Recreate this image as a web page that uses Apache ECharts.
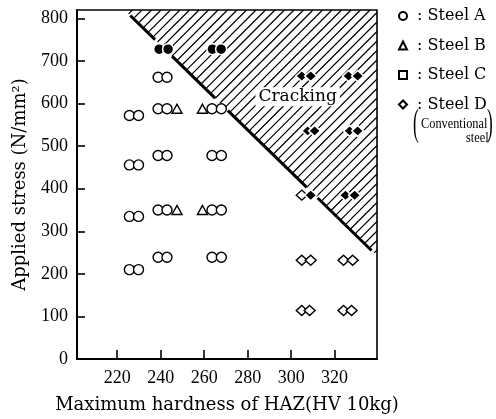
<!DOCTYPE html>
<html>
<head>
<meta charset="utf-8">
<script src="https://cdn.jsdelivr.net/npm/echarts@6/dist/echarts.min.js"></script>
<style>
  html, body { margin: 0; padding: 0; background: #fff; }
  #chart { width: 496px; height: 419px; }
</style>
</head>
<body>
<div id="chart"></div>
<script>
// Axis ticks
const hardnessTicks = [220, 240, 260, 280, 300, 320];
const stressTicks = [0, 100, 200, 300, 400, 500, 600, 700, 800];

// [maximum HAZ hardness (HV10), applied stress (N/mm²)]
const steelA = [
  [225.6, 572], [229.8, 572],
  [225.6, 456], [229.8, 456],
  [225.6, 335], [229.8, 335],
  [225.6, 210], [229.8, 210],
  [238.8, 662], [242.9, 662],
  [238.8, 588], [242.9, 588],
  [238.8, 478], [242.9, 478],
  [238.8, 350], [242.9, 350],
  [238.8, 239], [242.9, 239],
  [263.6, 588], [267.9, 588],
  [263.6, 478], [267.9, 478],
  [263.6, 350], [267.9, 350],
  [263.6, 239], [267.9, 239]
];
const steelACracked = [[239.3, 728], [243.4, 728], [263.8, 728], [267.8, 728]];
const steelB = [[247.5, 588], [247.5, 350], [259.2, 588], [259.2, 350]];
const steelC = [];
const steelD = [
  [304.9, 385],
  [304.9, 232], [309.0, 232], [324.1, 232], [328.3, 232],
  [304.9, 114], [308.5, 114], [324.1, 114], [327.8, 114]
];
const steelDCracked = [
  [304.9, 665], [309.0, 665], [326.4, 665], [330.6, 665],
  [307.6, 536], [310.8, 536], [326.9, 536], [330.6, 536],
  [309.0, 385], [325.0, 385], [329.2, 385]
];

// Cracking boundary: end points, and hardness ranges where the drawn line is interrupted
const crackEdge = [[226, 807], [337, 255]];
const edgeBreaks = [[237.4, 245.2], [265.0, 270.9], [307.2, 312.2]];
const crackingLabel = 'Cracking';

const HARD_MIN = 201.5, HARD_MAX = 339.5;
const STRESS_MIN = 0, STRESS_MAX = 820;

const SERIF = 'DejaVu Serif';
const NUM = 'Liberation Serif';

// Clip the parametric line P0 + t*D against a convex polygon (Cyrus-Beck)
function clipLine(P0, D, poly) {
  let tIn = -Infinity, tOut = Infinity;
  const cx = poly.reduce((a, p) => a + p[0], 0) / poly.length;
  const cy = poly.reduce((a, p) => a + p[1], 0) / poly.length;
  for (let i = 0; i < poly.length; i++) {
    const a = poly[i], b = poly[(i + 1) % poly.length];
    let nx = b[1] - a[1], ny = a[0] - b[0];
    if (nx * (cx - a[0]) + ny * (cy - a[1]) < 0) { nx = -nx; ny = -ny; }
    const num = nx * (P0[0] - a[0]) + ny * (P0[1] - a[1]);
    const den = nx * D[0] + ny * D[1];
    if (Math.abs(den) < 1e-9) {
      if (num < 0) return null;
    } else {
      const t = -num / den;
      if (den > 0) tIn = Math.max(tIn, t); else tOut = Math.min(tOut, t);
    }
  }
  return tIn < tOut ? [tIn, tOut] : null;
}

function renderCrackZone(params, api) {
  const [[h0, s0], [h1, s1]] = crackEdge;
  const slope = (s1 - s0) / (h1 - h0);
  const stressAt = h => s0 + (h - h0) * slope;
  const hardAt = s => h0 + (s - s0) / slope;

  const poly = [
    [hardAt(STRESS_MAX), STRESS_MAX],
    [HARD_MAX, STRESS_MAX],
    [HARD_MAX, stressAt(HARD_MAX)]
  ].map(p => api.coord(p));

  const children = [];
  // diagonal hatching "/" : x + y = c
  const step = 9.5;
  const sums = poly.map(p => p[0] + p[1]);
  const cMin = Math.ceil(Math.min(...sums) / step) * step;
  const cMax = Math.max(...sums);
  for (let c = cMin; c <= cMax; c += step) {
    const P0 = [c, 0], D = [1, -1];
    const r = clipLine(P0, D, poly);
    if (!r) continue;
    children.push({
      type: 'line',
      shape: { x1: P0[0] + r[0], y1: P0[1] - r[0], x2: P0[0] + r[1], y2: P0[1] - r[1] },
      style: { stroke: '#000', lineWidth: 1.2 }
    });
  }

  // thick boundary line, interrupted where specimens sit on it
  const cuts = [h0];
  edgeBreaks.forEach(b => { cuts.push(b[0], b[1]); });
  cuts.push(h1);
  for (let i = 0; i < cuts.length; i += 2) {
    const a = api.coord([cuts[i], stressAt(cuts[i])]);
    const b = api.coord([cuts[i + 1], stressAt(cuts[i + 1])]);
    children.push({
      type: 'line',
      shape: { x1: a[0], y1: a[1], x2: b[0], y2: b[1] },
      style: { stroke: '#000', lineWidth: 3, lineCap: 'butt' }
    });
  }

  const lp = api.coord([303, 616]);
  children.push({
    type: 'text',
    x: lp[0], y: lp[1],
    style: {
      text: crackingLabel,
      fontFamily: SERIF,
      fontSize: 17,
      fill: '#000',
      align: 'center',
      verticalAlign: 'middle',
      backgroundColor: '#fff',
      padding: [1, 3]
    }
  });
  return { type: 'group', children };
}

const openStyle = { color: '#fff', borderColor: '#000', borderWidth: 1.4, opacity: 1 };
const solidStyle = { color: '#000', borderColor: '#fff', borderWidth: 1.5, opacity: 1 };
const noteFont = { fontFamily: 'Liberation Serif', fontSize: 14, fill: '#000' };
const parenFont = { fontFamily: 'Liberation Serif', fontSize: 38, fill: '#000' };
const tickText = { fontFamily: NUM, fontSize: 18, color: '#000', fontWeight: 'normal' };

const chart = echarts.init(document.getElementById('chart'), null, { renderer: 'canvas' });
chart.setOption({
  animation: false,
  backgroundColor: '#fff',
  textStyle: { fontFamily: NUM, color: '#000' },
  grid: {
    left: 77, right: 119, top: 10, bottom: 56,
    show: true, borderColor: '#000', borderWidth: 1.6, backgroundColor: 'transparent'
  },
  legend: {
    data: ['Steel A', 'Steel B', 'Steel C', 'Steel D'],
    orient: 'vertical',
    left: 393, top: 1,
    itemWidth: 8, itemHeight: 8,
    itemGap: 9.5,
    selectedMode: false,
    formatter: name => ' : ' + name,
    textStyle: { fontFamily: SERIF, fontSize: 16, color: '#000', lineHeight: 20 }
  },
  xAxis: {
    type: 'value',
    min: HARD_MIN, max: HARD_MAX,
    name: 'Maximum hardness of HAZ(HV 10kg)',
    nameLocation: 'middle',
    nameGap: 37,
    nameTextStyle: { fontFamily: SERIF, fontSize: 18, color: '#000' },
    axisLine: { lineStyle: { color: '#000', width: 2 } },
    axisTick: { inside: true, length: 9, customValues: hardnessTicks, lineStyle: { color: '#000', width: 1.6 } },
    axisLabel: Object.assign({ customValues: hardnessTicks, margin: 10 }, tickText),
    splitLine: { show: false }
  },
  yAxis: {
    type: 'value',
    min: STRESS_MIN, max: STRESS_MAX,
    name: 'Applied stress (N/mm²)',
    nameLocation: 'middle',
    nameGap: 48,
    nameTextStyle: { fontFamily: SERIF, fontSize: 18, color: '#000' },
    axisLine: { lineStyle: { color: '#000', width: 2 } },
    axisTick: { inside: true, length: 8, customValues: stressTicks, lineStyle: { color: '#000', width: 1.6 } },
    axisLabel: Object.assign({ customValues: stressTicks, margin: 9 }, tickText),
    splitLine: { show: false }
  },
  graphic: [
    { type: 'text', x: 413, y: 106, scaleX: 0.45, style: Object.assign({ text: '(' }, parenFont) },
    { type: 'text', x: 421, y: 117, scaleX: 0.88, style: Object.assign({ text: 'Conventional' }, noteFont) },
    { type: 'text', x: 466, y: 131, scaleX: 0.88, style: Object.assign({ text: 'steel' }, noteFont) },
    { type: 'text', x: 487, y: 106, scaleX: 0.45, style: Object.assign({ text: ')' }, parenFont) }
  ],
  series: [
    {
      type: 'custom',
      name: 'Cracking region',
      renderItem: renderCrackZone,
      data: [crackEdge[0]],
      z: 1,
      silent: true
    },
    { type: 'scatter', name: 'Steel A', data: steelA, symbol: 'circle', symbolSize: 10, itemStyle: openStyle, z: 3 },
    { type: 'scatter', name: 'Steel A cracked', data: steelACracked, symbol: 'circle', symbolSize: 11, itemStyle: solidStyle, z: 3 },
    { type: 'scatter', name: 'Steel B', data: steelB, symbol: 'triangle', symbolSize: [10, 9], itemStyle: openStyle, z: 3 },
    { type: 'scatter', name: 'Steel C', data: steelC, symbol: 'rect', symbolSize: 9, itemStyle: openStyle, z: 3 },
    { type: 'scatter', name: 'Steel D', data: steelD, symbol: 'diamond', symbolSize: [11, 10], itemStyle: openStyle, z: 3 },
    { type: 'scatter', name: 'Steel D cracked', data: steelDCracked, symbol: 'diamond', symbolSize: [12, 11], itemStyle: solidStyle, z: 3 }
  ]
});
</script>
</body>
</html>
